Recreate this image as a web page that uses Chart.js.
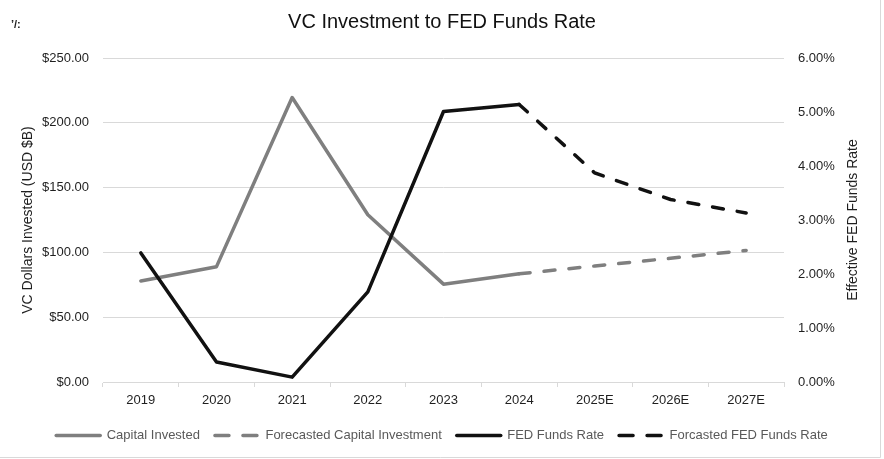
<!DOCTYPE html>
<html>
<head>
<meta charset="utf-8">
<script src="https://cdn.jsdelivr.net/npm/chart.js@4.4.1/dist/chart.umd.min.js"></script>
<style>
  html, body { margin: 0; padding: 0; background: #ffffff; }
  #wrap { width: 884px; height: 459px; position: relative; }
</style>
</head>
<body>
<div id="wrap"><canvas id="c"></canvas></div>
<script>
const years = ['2019', '2020', '2021', '2022', '2023', '2024', '2025E', '2026E', '2027E'];
const capitalInvested = [78, 89, 219.5, 129, 75.5, 83.5, null, null, null];
const capitalForecast = [null, null, null, null, null, 83.5, 89.5, 95.5, 101.5];
const fedRate = [2.39, 0.37, 0.09, 1.67, 5.01, 5.14, null, null, null];
const fedForecast = [null, null, null, null, null, 5.14, 3.87, 3.38, 3.13];
const leftTicks = [0, 50, 100, 150, 200, 250];
const rightTicks = [0, 1, 2, 3, 4, 5, 6];

const GRAY = '#7f7f7f';
const BLACK = '#111111';
const FONT = "'Liberation Sans', Arial, sans-serif";

const decor = {
  id: 'decor',
  afterDraw(chart) {
    const ctx = chart.ctx;
    const a = chart.chartArea;
    ctx.save();
    ctx.fillStyle = '#1f1f1f';
    ctx.font = "14px " + FONT;
    ctx.textAlign = 'center';
    ctx.textBaseline = 'middle';
    ctx.translate(853.5, (a.top + a.bottom) / 2);
    ctx.rotate(-Math.PI / 2);
    ctx.fillText('Effective FED Funds Rate', 0, 0);
    ctx.restore();
    ctx.save();
    ctx.fillStyle = '#222';
    ctx.font = "bold 11px " + FONT;
    ctx.textBaseline = 'middle';
    ctx.fillText('\u2019/:', 11, 25);
    ctx.restore();
    ctx.save();
    ctx.strokeStyle = '#d9d9d9';
    ctx.lineWidth = 1;
    ctx.beginPath();
    ctx.moveTo(880.5, 0);
    ctx.lineTo(880.5, 457.5);
    ctx.lineTo(0, 457.5);
    ctx.stroke();
    ctx.restore();
  }
};

new Chart(document.getElementById('c'), {
  type: 'line',
  data: {
    labels: years,
    datasets: [
      { label: 'Capital Invested', data: capitalInvested, yAxisID: 'y', borderColor: GRAY, backgroundColor: GRAY,
        borderWidth: 3.5, pointRadius: 0, pointStyle: 'line', order: 2, borderCapStyle: 'round', borderJoinStyle: 'round' },
      { label: 'Forecasted Capital Investment', data: capitalForecast, yAxisID: 'y', borderColor: GRAY, backgroundColor: GRAY,
        borderWidth: 3.5, borderDash: [11, 14], pointRadius: 0, pointStyle: 'line', order: 2, borderCapStyle: 'round' },
      { label: 'FED Funds Rate', data: fedRate, yAxisID: 'y1', borderColor: BLACK, backgroundColor: BLACK,
        borderWidth: 3.5, pointRadius: 0, pointStyle: 'line', order: 1, borderCapStyle: 'round', borderJoinStyle: 'round' },
      { label: 'Forcasted FED Funds Rate', data: fedForecast, yAxisID: 'y1', borderColor: BLACK, backgroundColor: BLACK,
        borderWidth: 3.5, borderDash: [11, 14], pointRadius: 0, pointStyle: 'line', order: 1, borderCapStyle: 'round' }
    ]
  },
  options: {
    responsive: true,
    maintainAspectRatio: false,
    animation: false,
    devicePixelRatio: 1,
    layout: { padding: { left: 0, right: 0, top: 0, bottom: 7 } },
    plugins: {
      tooltip: { enabled: false },
      title: {
        display: true,
        text: 'VC Investment to FED Funds Rate',
        color: '#111',
        font: { family: FONT, size: 20, weight: 'normal' },
        padding: { top: 10, bottom: 24 }
      },
      legend: {
        position: 'bottom',
        labels: {
          usePointStyle: true,
          pointStyleWidth: 44,
          padding: 15,
          color: '#595959',
          font: { family: FONT, size: 13 },
          generateLabels(chart) {
            return chart.data.datasets.map((ds, i) => ({
              text: ds.label,
              fillStyle: ds.borderColor,
              strokeStyle: ds.borderColor,
              lineWidth: 3.5,
              lineDash: ds.borderDash ? [14, 14] : [],
              lineCap: 'round',
              pointStyle: 'line',
              hidden: false,
              fontColor: '#595959',
              datasetIndex: i
            }));
          }
        }
      }
    },
    scales: {
      x: {
        offset: true,
        grid: { display: true, drawOnChartArea: false, drawTicks: true, tickLength: 5, color: '#d9d9d9', offset: true },
        border: { display: true, color: '#d9d9d9' },
        ticks: { color: '#1f1f1f', font: { family: FONT, size: 13 }, padding: 6, maxRotation: 0 },
        afterFit(scale) { scale.height = 32; }
      },
      y: {
        position: 'left',
        min: 0, max: 250,
        afterBuildTicks(scale) { scale.ticks = leftTicks.map(v => ({ value: v })); },
        ticks: {
          color: '#1f1f1f',
          font: { family: FONT, size: 13 },
          padding: 14,
          callback: v => '$' + Number(v).toFixed(2)
        },
        grid: { color: '#d9d9d9', drawTicks: false, lineWidth: 1 },
        border: { display: false },
        title: {
          display: true,
          text: 'VC Dollars Invested (USD $B)',
          color: '#1f1f1f',
          font: { family: FONT, size: 14 },
          padding: { top: 20, bottom: 0 }
        },
        afterFit(scale) { scale.width = 103; }
      },
      y1: {
        position: 'right',
        min: 0, max: 6,
        afterBuildTicks(scale) { scale.ticks = rightTicks.map(v => ({ value: v })); },
        ticks: {
          color: '#1f1f1f',
          font: { family: FONT, size: 13 },
          padding: 14,
          callback: v => Number(v).toFixed(2) + '%'
        },
        grid: { drawOnChartArea: false, drawTicks: false },
        border: { display: false },
        afterFit(scale) { scale.width = 100; }
      }
    }
  },
  plugins: [decor]
});
</script>
</body>
</html>
